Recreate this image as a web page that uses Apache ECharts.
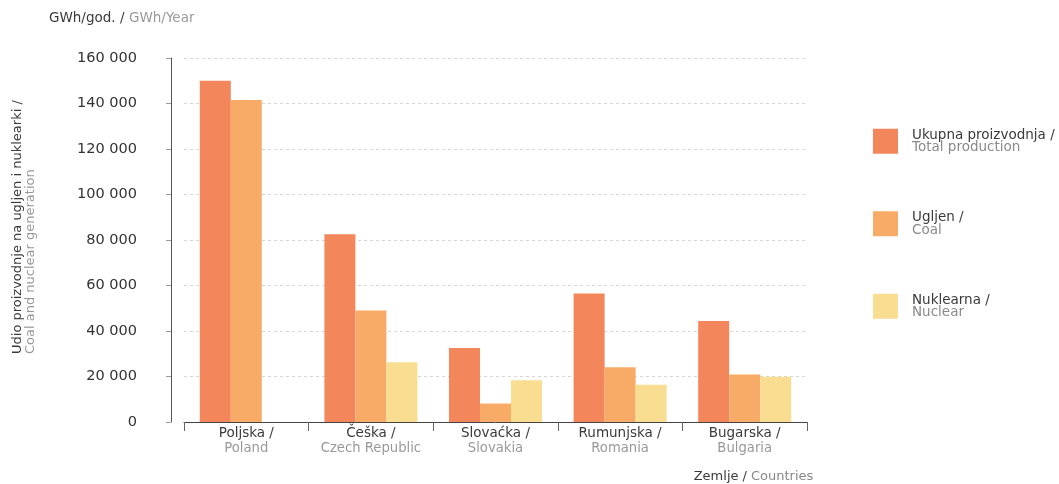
<!DOCTYPE html>
<html>
<head>
<meta charset="utf-8">
<script src="https://cdn.jsdelivr.net/npm/echarts@6/dist/echarts.min.js"></script>
<style>
html,body{margin:0;padding:0;background:#fff;}
#c{width:1059px;height:484px;}
</style>
</head>
<body>
<div id="c"></div>
<script>
const catHr = ['Poljska /', 'Češka /', 'Slovaćka /', 'Rumunjska /', 'Bugarska /'];
const catEn = ['Poland', 'Czech Republic', 'Slovakia', 'Romania', 'Bulgaria'];
const seriesHr = ['Ukupna proizvodnja /', 'Ugljen /', 'Nuklearna /'];
const seriesEn = ['Total production', 'Coal', 'Nuclear'];
const totalVals = [150000, 82500, 32500, 56500, 44400];
const coalVals = [141500, 49000, 8100, 24100, 20900];
const nuclearVals = [null, 26300, 18300, 16400, 19900];
const colors = ['#f4865b', '#f7ab66', '#f9dd90'];

const FONT = '"DejaVu Sans", sans-serif';
const cats = catHr.map((h, i) => h + '\n' + catEn[i]);
const names = seriesHr.map((h, i) => h + '\n' + seriesEn[i]);
const vals = [totalVals, coalVals, nuclearVals];

const chart = echarts.init(document.getElementById('c'));
chart.setOption({
  animation: false,
  textStyle: { fontFamily: FONT },
  grid: { left: 184, right: 252, top: 58, bottom: 62 },
  legend: {
    orient: 'vertical', left: 868, top: 123,
    itemWidth: 25, itemHeight: 25, itemGap: 56,
    icon: 'rect',
    data: names,
    formatter: function (n) {
      const p = n.split('\n');
      return '{a|' + p[0] + '}\n{b|' + p[1] + '}';
    },
    textStyle: {
      padding: [0, 0, 0, 9],
      rich: {
        a: { fontSize: 13.5, color: '#3a3a3a', lineHeight: 12.5, fontFamily: FONT },
        b: { fontSize: 13.5, color: '#8a8a8a', lineHeight: 12.5, fontFamily: FONT }
      }
    }
  },
  xAxis: {
    type: 'category',
    data: cats,
    axisLine: { lineStyle: { color: '#444', width: 1 } },
    axisTick: { show: true, length: 9, lineStyle: { color: '#666' } },
    axisLabel: {
      interval: 0,
      margin: 4,
      formatter: function (v) {
        const p = v.split('\n');
        return '{a|' + p[0] + '}\n{b|' + p[1] + '}';
      },
      rich: {
        a: { fontSize: 13.5, color: '#3a3a3a', lineHeight: 15, fontFamily: FONT },
        b: { fontSize: 13.2, color: '#999', lineHeight: 15, fontFamily: FONT }
      }
    }
  },
  yAxis: {
    type: 'value',
    min: 0, max: 160000, interval: 20000,
    offset: 13,
    axisLine: { show: true, lineStyle: { color: '#555', width: 1 } },
    axisTick: { show: true, length: 5, lineStyle: { color: '#999' } },
    axisLabel: {
      margin: 34, fontSize: 14.5, color: '#333', fontFamily: FONT,
      formatter: function (v) { return v === 0 ? '0' : String(v).replace(/\B(?=(\d{3})+(?!\d))/g, ' '); }
    },
    splitLine: { lineStyle: { color: '#d6d6d6', type: [3, 3], width: 1 } }
  },
  series: names.map((n, i) => ({
    name: n,
    type: 'bar',
    data: vals[i],
    barWidth: 31,
    barGap: '0%',
    itemStyle: { color: colors[i] }
  })),
  graphic: [
    {
      type: 'text', x: 49, y: 18,
      style: { text: 'GWh/god. /', fontSize: 13.5, fill: '#3a3a3a', fontFamily: FONT, align: 'left', verticalAlign: 'middle' }
    },
    {
      type: 'text', x: 129, y: 18,
      style: { text: 'GWh/Year', fontSize: 13.5, fill: '#999', fontFamily: FONT, align: 'left', verticalAlign: 'middle' }
    },
    {
      type: 'text', x: 24, y: 354, rotation: Math.PI / 2,
      style: { text: 'Udio proizvodnje na ugljen i nuklearki /', fontSize: 13, fill: '#3a3a3a', fontFamily: FONT, align: 'left', verticalAlign: 'bottom' }
    },
    {
      type: 'text', x: 37, y: 354, rotation: Math.PI / 2,
      style: { text: 'Coal and nuclear generation', fontSize: 13, fill: '#999', fontFamily: FONT, align: 'left', verticalAlign: 'bottom' }
    },
    {
      type: 'text', x: 747, y: 477,
      style: { text: 'Zemlje /', fontSize: 13, fill: '#3a3a3a', fontFamily: FONT, align: 'right', verticalAlign: 'middle' }
    },
    {
      type: 'text', x: 751, y: 477,
      style: { text: 'Countries', fontSize: 13, fill: '#888', fontFamily: FONT, align: 'left', verticalAlign: 'middle' }
    }
  ]
});
</script>
</body>
</html>
